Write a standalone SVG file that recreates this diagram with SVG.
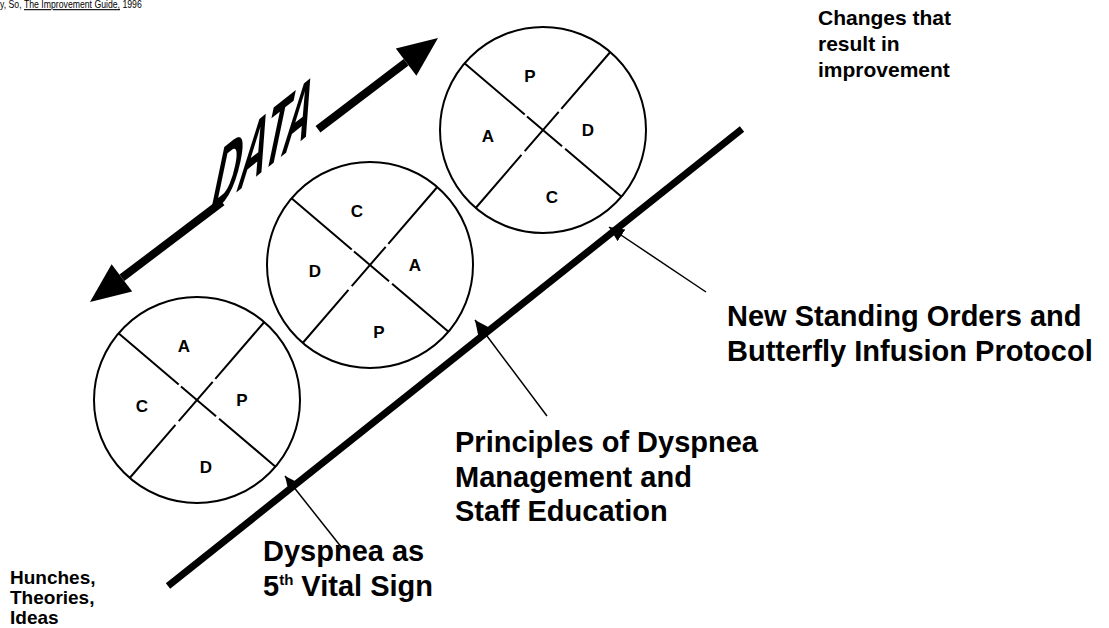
<svg xmlns="http://www.w3.org/2000/svg" width="1109" height="628" viewBox="0 0 1109 628">
<style>
text{font-family:"Liberation Sans",Arial,sans-serif;fill:#000}
.cyc{font-size:17px;font-weight:bold;text-anchor:middle}
.big{font-size:29px;font-weight:bold}
.sm{font-size:19px;font-weight:bold}
.chg{font-size:21px;font-weight:bold}
.ref{font-size:11px}
.rim{fill:none;stroke:#000;stroke-width:2}
.cross{stroke:#000;stroke-width:2;fill:none}
.ptr{stroke:#000;stroke-width:1.5;fill:none;marker-end:url(#tip)}
.axis{stroke:#000;stroke-width:7;fill:none}
.shaft{stroke:#000;stroke-width:8;fill:none}
</style>
<defs>
<marker id="tip" markerUnits="userSpaceOnUse" markerWidth="17" markerHeight="15" refX="15" refY="7" orient="auto" viewBox="0 0 17 15">
<path d="M0,0 L15,7 L0,14 Z" fill="#000"/>
</marker>
<!-- one PDSA wheel: rim plus two crossing dividers -->
<g id="wheel">
<circle r="103" class="rim"/>
<line x1="-78.5" y1="-66.7" x2="78.5" y2="66.7" class="cross" stroke-dasharray="79 3 46 4 300"/>
<line x1="67.3" y1="-78" x2="-67.3" y2="78" class="cross" stroke-dasharray="75 4 52 5 300"/>
</g>
</defs>

<g id="source-note">
<text class="ref" transform="scale(0.79,1)" x="0" y="8">y, So, <tspan text-decoration="underline">The Improvement Guide,</tspan> 1996</text>
</g>

<g id="connectors">
<line class="axis" x1="168" y1="586" x2="742" y2="129"/>
<line class="ptr" x1="342" y1="548" x2="285" y2="476"/>
<line class="ptr" x1="547" y1="416" x2="475" y2="320"/>
<line class="ptr" x1="706" y1="292" x2="609" y2="227"/>
</g>

<g id="data-arrow">
<line class="shaft" x1="121.9" y1="277.8" x2="222" y2="202"/>
<line class="shaft" x1="318" y1="129.2" x2="406.1" y2="62.2"/>
<polygon points="90,302 132.2,291.4 111.6,264.3"/>
<polygon points="438,38 416.4,75.7 395.8,48.6"/>
<text transform="matrix(0.94,-0.75,-0.5,2.4,208,215)" font-size="40" font-weight="bold">DATA</text>
</g>

<g id="cycle-1">
<use href="#wheel" transform="translate(197,400)"/>
<text class="cyc" x="184" y="352">A</text>
<text class="cyc" x="142" y="412">C</text>
<text class="cyc" x="242" y="406">P</text>
<text class="cyc" x="206" y="473">D</text>
</g>

<g id="cycle-2">
<use href="#wheel" transform="translate(370,265)"/>
<text class="cyc" x="357" y="217">C</text>
<text class="cyc" x="315" y="277">D</text>
<text class="cyc" x="415" y="271">A</text>
<text class="cyc" x="379" y="338">P</text>
</g>

<g id="cycle-3">
<use href="#wheel" transform="translate(543,130)"/>
<text class="cyc" x="530" y="82">P</text>
<text class="cyc" x="488" y="142">A</text>
<text class="cyc" x="588" y="136">D</text>
<text class="cyc" x="552" y="203">C</text>
</g>

<g id="label-changes">
<text class="chg" x="818" y="25">Changes that</text>
<text class="chg" x="818" y="51">result in</text>
<text class="chg" x="818" y="77">improvement</text>
</g>

<g id="label-hunches">
<text class="sm" x="10" y="584">Hunches,</text>
<text class="sm" x="10" y="604">Theories,</text>
<text class="sm" x="10" y="624">Ideas</text>
</g>

<g id="label-standing-orders">
<text class="big" x="727" y="326">New Standing Orders and</text>
<text class="big" x="727" y="361">Butterfly Infusion Protocol</text>
</g>

<g id="label-principles">
<text class="big" x="455" y="452">Principles of Dyspnea</text>
<text class="big" x="455" y="487">Management and</text>
<text class="big" x="455" y="521">Staff Education</text>
</g>

<g id="label-vital-sign">
<text class="big" x="263" y="561">Dyspnea as</text>
<text class="big" x="263" y="596">5<tspan font-size="15" dy="-11">th</tspan><tspan dy="11"> Vital Sign</tspan></text>
</g>
</svg>
